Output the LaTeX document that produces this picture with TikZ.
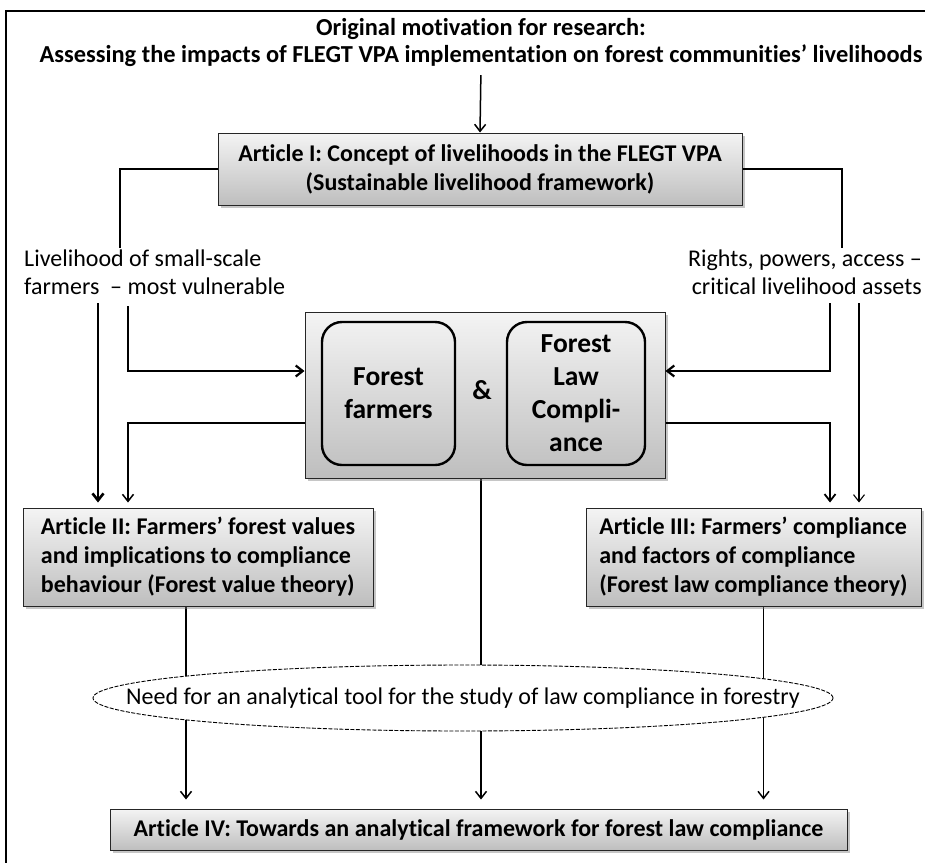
\documentclass[tikz,border=0pt]{standalone}
\usepackage{fontspec}
\setmainfont{Carlito}[Ligatures=NoCommon]
\usetikzlibrary{arrows.meta,shadows}
\pgfdeclarelayer{background}
\pgfsetlayers{background,main}
\definecolor{boxtop}{HTML}{F4F4F4}
\definecolor{boxbot}{HTML}{BEBEBE}
\begin{document}
\begin{tikzpicture}[
        x=1pt, y=-1pt,
        article/.style={draw=black!85, line width=1pt, top color=boxtop, bottom color=boxbot,
            drop shadow={shadow xshift=2.5pt, shadow yshift=-2.5pt, opacity=.45},
            font=\fontsize{24}{29}\selectfont\bfseries, inner sep=0pt},
        pillar/.style={draw, line width=2.4pt, rounded corners=20pt, align=center, inner sep=2pt,
            font=\fontsize{27.5}{33}\selectfont\bfseries},
        note/.style={inner sep=0pt, font=\fontsize{24}{28}\selectfont},
        arr/.style={-{Straight Barb[length=7pt,width=11pt]}, line width=1.5pt}
    ]
    \useasboundingbox (0,0) rectangle (925,862);
    \draw[line width=1.8pt] (6,11) rectangle (940,880);

    \node[align=center, inner sep=0pt, anchor=north, font=\fontsize{24.4}{27}\selectfont\bfseries] (title) at (481,18.5)
        {Original motivation for research:\\Assessing the impacts of FLEGT VPA implementation on forest communities’ livelihoods};
    \node[article, align=center, minimum width=524pt, minimum height=72pt] (art1) at (480,169)
        {Article I: Concept of livelihoods in the FLEGT VPA\\(Sustainable livelihood framework)};

    \node[note, anchor=north west, align=left] (livl) at (24,250) {Livelihood of small-scale\\farmers~ – most vulnerable};
    \node[note, anchor=north east, align=right] (rights) at (922,250) {Rights, powers, access –\\critical livelihood assets};

    \node[article, minimum width=360pt, minimum height=166pt] (core) at (485,395) {};
    \node[pillar, minimum width=133pt, minimum height=143pt] (farmers) at (388.5,393.5) {Forest\\farmers};
    \node[pillar, minimum width=138pt, minimum height=143pt] (law) at (576,393.5) {Forest\\Law\\Compli-\\ance};
    \node[font=\fontsize{27.5}{33}\selectfont\bfseries] (amp) at (482,390) {\&};

    \node[article, align=left, minimum width=350pt, minimum height=98pt] (art2) at (198,557)
        {Article II: Farmers’ forest values\\and implications to compliance\\behaviour (Forest value theory)};
    \node[article, align=left, minimum width=335pt, minimum height=98pt] (art3) at (753.5,557)
        {Article III: Farmers’ compliance\\and factors of compliance\\(Forest law compliance theory)};

    \draw[dash pattern=on 4pt off 1.5pt, line width=.9pt, fill=white] (463,698) ellipse [x radius=370pt, y radius=33pt];
    \node[inner sep=0pt, font=\fontsize{24}{28}\selectfont] (need) at (463,698)
        {Need for an analytical tool for the study of law compliance in forestry};

    \node[article, minimum width=737pt, minimum height=41pt] (art4) at (478.5,829.5)
        {Article IV: Towards an analytical framework for forest law compliance};

    \coordinate (lt) at (120,248);
    \coordinate (rt) at (842,248);
    \coordinate (la) at (98,303);
    \coordinate (lb) at (128,306);
    \coordinate (ra) at (830,303);
    \coordinate (rb) at (859,303);

    \draw[arr, shorten <=8pt] (title.south) -- (art1.north);
    \draw[line width=1.5pt] (art1.west) -| (lt);
    \draw[line width=1.5pt] (art1.east) -| (rt);
    \draw[arr, line width=2.6pt, shorten >=5pt] (la) -- (la |- art2.north);
    \draw[arr, line width=2.2pt] (lb) |- ([yshift=24pt]core.west);
    \draw[arr, shorten >=5pt] ([yshift=-28pt]core.west) -| (lb |- art2.north);
    \draw[arr, line width=2.2pt] (ra) |- ([yshift=24pt]core.east);
    \draw[arr, line width=1.8pt, shorten >=5pt] ([yshift=-28pt]core.east) -| (ra |- art3.north);
    \draw[arr, line width=1.1pt, shorten >=5pt] (rb) -- (rb |- art3.north);

    \begin{pgfonlayer}{background}
        \draw[arr, shorten >=9pt] ([xshift=-12pt]art2.south) -- ([xshift=-12pt]art2.south |- art4.north);
        \draw[arr, shorten >=9pt] ([xshift=-4pt]core.south) -- ([xshift=-4pt]core.south |- art4.north);
        \draw[arr, shorten >=9pt] ([xshift=10pt]art3.south) -- ([xshift=10pt]art3.south |- art4.north);
    \end{pgfonlayer}
\end{tikzpicture}
\end{document}
